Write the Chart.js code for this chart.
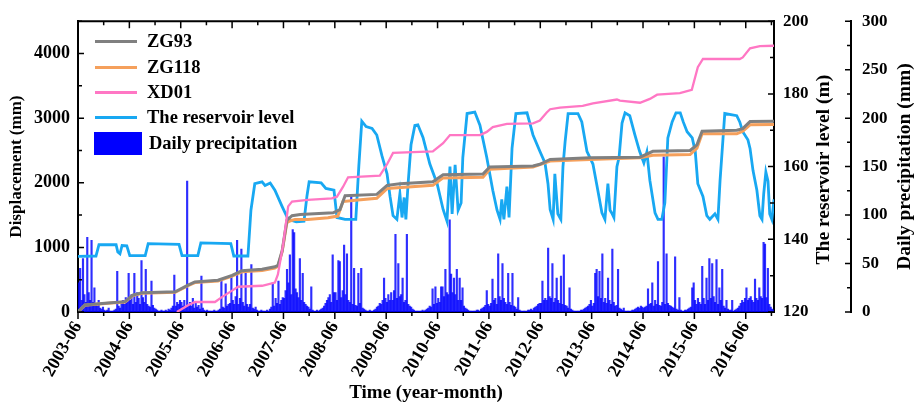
<!DOCTYPE html>
<html><head><meta charset="utf-8">
<script src="https://cdn.jsdelivr.net/npm/chart.js@4.4.0/dist/chart.umd.min.js"></script>
<style>
html,body{margin:0;padding:0;background:#fff;}
#wrap{position:relative;width:919px;height:406px;overflow:hidden;}
#c{position:absolute;left:0;top:0;}
.lt{position:absolute;font:bold 18.5px "Liberation Serif","Times New Roman",serif;color:#000;white-space:nowrap;height:20px;line-height:20px;}
.sw{position:absolute;}
</style></head><body>
<div id="wrap"><canvas id="c" width="919" height="406"></canvas><div id="legend"></div></div>
<script>
// ---------- DATA (x values are months since 2003-06) ----------
const startYear = 2003;
const tickYears = [2003,2004,2005,2006,2007,2008,2009,2010,2011,2012,2013,2014,2015,2016];
const dispTicks = [0,1000,2000,3000,4000];
const resTicks = [120,140,160,180,200];
const rainTicks = [0,50,100,150,200,250,300];

const resMonth = [0,4.2,4.9,8.9,9.3,9.8,10.3,11.4,12.1,15.7,16.4,23.6,24.3,28.0,28.7,35.7,36.4,39.7,40.4,41.3,43.0,43.7,44.9,46.0,47.7,49.1,51.0,52.8,53.5,54.0,56.8,57.9,59.8,60.5,62.4,64.9,65.6,66.3,67.3,68.7,69.8,71.0,72.2,72.9,73.6,74.5,75.2,75.7,76.2,76.6,77.1,77.8,78.7,79.4,80.6,82.2,83.9,85.3,86.2,86.9,87.4,88.1,88.8,89.5,89.9,90.9,92.7,93.9,95.5,96.9,97.9,98.6,99.0,99.5,100.2,100.7,101.4,102.3,104.9,106.3,107.9,109.1,109.8,110.3,111.0,111.4,112.1,112.8,113.3,113.8,114.5,116.8,117.7,118.9,120.3,121.2,122.4,123.1,123.8,124.3,124.8,125.2,125.9,126.4,127.1,127.8,128.9,130.1,131.2,132.2,132.9,133.6,134.8,135.5,136.4,137.1,137.8,138.8,139.7,140.7,141.4,142.3,143.5,144.2,144.8,146.0,146.9,147.6,148.8,149.5,150.0,150.7,151.1,153.9,154.6,155.3,156.5,157.0,157.7,158.6,159.3,159.8,160.2,160.7,161.2,161.6,162.1,162.6];
const resLevel = [135.3,135.4,138.5,138.5,136.5,136,138.3,138.2,135.5,135.5,138.8,138.6,135.5,135.5,139,138.8,135.4,135.4,148,155.3,155.8,154.8,155.5,153.5,149,145.5,144.8,145,152,155.8,155.5,154,153.5,146,145.5,145.5,160,172.5,171,170.5,168.7,163,158,151.8,146.5,145.5,152.5,146,151.5,145.5,155,166,171.3,171.5,168,160.7,155.3,148.2,145,160,147,160.5,148,150,162.5,174.6,175,171.4,162.5,153.5,148,145.5,151,145.5,154.5,146,165,174.6,174.8,168.7,164.2,161,155.3,148.2,145.5,158,147,145.5,160,166.9,174.6,174.6,172.3,164.2,160.7,155,147.3,145.5,155.3,148,147,146,160,162.5,172,174.8,174,168.7,164.2,161,164,156.2,147.3,145.5,145.5,150,167.9,172.3,174.8,174.8,172.3,169.6,167.9,164.2,155.3,151.8,146.5,145.5,147,145.5,156.2,167.9,174.6,174,172.3,169.6,167.4,165,158.9,153.5,146.5,145.5,152.6,158.5,156,147,145.5,151];

const zg93Month = [0,1.6,7.0,11.0,12.8,15.0,22.7,25.7,27.3,32.7,36.0,38.3,43.0,46.0,46.7,47.7,48.8,50.0,51.9,59.6,61.2,62.4,69.8,72.2,75.2,82.9,85.3,94.6,96.2,106.3,107.9,110.3,119.6,131.3,134.3,143.0,144.6,145.8,153.9,155.3,157.0,162.6];
const zg93Disp = [0,110,140,160,262,298,312,415,466,492,568,640,662,700,720,950,1420,1490,1509,1534,1584,1800,1820,1960,1985,2015,2125,2135,2245,2260,2286,2361,2386,2396,2486,2500,2586,2797,2812,2837,2947,2950];

const zg118Month = [0,1.6,7.0,11.0,12.8,15.0,22.7,25.7,27.3,32.7,36.0,38.3,43.0,46.0,46.7,47.7,48.8,49.5,50.7,53.7,58.4,60.7,61.9,65.4,69.8,72.2,82.9,85.3,94.6,96.2,106.3,110.3,119.6,131.3,134.3,143.0,144.6,145.8,153.9,155.3,157.0,162.6];
const zg118Disp = [0,105,135,155,255,290,305,406,456,481,556,621,642,681,707,932,1383,1408,1433,1433,1459,1484,1709,1734,1759,1910,1960,2075,2085,2210,2245,2336,2361,2386,2426,2436,2536,2757,2757,2797,2897,2900];

const xd01Month = [23.1,25.7,27.3,32.0,33.6,36.0,37.4,43.0,46.0,46.7,47.9,49.1,50.0,53.7,59.3,60.5,61.9,63.1,70.5,72.2,73.6,82.9,85.3,86.9,93.9,95.5,96.9,100.2,106.3,107.9,109.5,110.3,112.6,117.9,120.3,125.9,126.6,131.3,133.6,135.3,140.6,143.4,144.8,146.0,154.6,155.3,157.0,159.3,162.6];
const xd01Disp = [0,105,155,155,230,331,391,406,456,582,1033,1634,1709,1734,1759,1784,1935,2085,2110,2286,2461,2486,2611,2737,2737,2787,2862,2912,2920,2962,3088,3138,3163,3188,3228,3288,3270,3238,3298,3363,3388,3439,3789,3915,3915,3940,4080,4115,4120];

// precipitation (mm), ~10-day samples, each row starts in June of the year
const rain2003 = [30,45,12,55,18,10,77,20,12,74,10,25,8,6,12,4,3,5,2,1,2,4,1,1,1,2,3,42,6,4,10,12,8,15,10,40];
const rain2004 = [12,18,8,40,10,20,14,8,53,15,10,44,8,6,5,32,7,4,3,2,1,1,2,1,1,2,1,3,2,4,6,38,6,10,8,12];
const rain2005 = [10,6,12,5,135,8,10,6,14,4,9,5,7,3,37,4,2,1,2,1,1,1,1,2,1,1,2,3,34,5,4,29,6,8,9,37];
const rain2006 = [12,8,16,74,8,14,65,10,6,40,8,5,8,49,4,3,5,2,1,1,2,1,1,1,2,1,3,5,30,6,14,9,32,8,12,15];
const rain2007 = [14,22,44,30,59,18,85,82,24,20,15,55,12,40,10,8,6,5,3,26,2,1,1,2,1,2,3,4,6,9,12,15,18,10,59,20];
const rain2008 = [20,12,53,52,15,22,69,18,60,12,10,119,8,45,7,6,40,9,45,4,3,2,1,1,2,1,1,2,3,5,6,9,8,12,35,14];
const rain2009 = [10,18,12,20,12,22,80,14,50,16,18,35,10,12,80,8,6,5,3,2,1,1,1,1,1,2,1,2,3,4,6,5,24,8,26,9];
const rain2010 = [14,10,26,26,16,44,20,18,95,39,20,35,18,44,12,35,12,25,6,4,3,2,1,1,1,1,1,2,2,1,3,4,5,7,22,8];
const rain2011 = [6,9,34,12,14,8,60,16,12,50,14,10,8,40,10,7,40,6,5,3,15,2,1,1,1,1,1,2,2,3,2,4,5,6,8,9];
const rain2012 = [9,32,12,14,12,66,16,14,50,10,14,35,12,9,37,8,59,7,6,4,25,3,2,1,1,1,1,1,2,2,3,4,5,6,8,12];
const rain2013 = [6,9,40,44,16,42,14,60,10,14,9,35,12,8,65,10,6,7,44,4,3,2,4,1,1,1,1,1,2,2,3,4,5,4,6,5];
const rain2014 = [4,5,6,24,8,9,30,6,12,8,52,7,6,10,160,8,60,9,7,6,5,4,57,3,2,15,2,1,1,2,2,3,4,5,25,30];
const rain2015 = [12,8,14,10,8,47,14,8,35,12,55,14,50,16,10,54,8,25,12,44,6,4,12,3,2,2,12,1,2,3,4,6,9,12,10,14];
const rain2016 = [25,12,14,16,12,10,34,14,12,25,16,14,72,70,15,45,8,5,3,2];
const rainYears = [rain2003,rain2004,rain2005,rain2006,rain2007,rain2008,rain2009,rain2010,rain2011,rain2012,rain2013,rain2014,rain2015,rain2016];

// ---------- build ----------
const pts = (xs, ys) => xs.map((x, i) => ({x, y: ys[i]}));
const rainPts = [];
rainYears.forEach((row, k) => row.forEach((v, j) => rainPts.push({x: k * 12 + j / 3 + 1 / 6, y: v})));
const monthTicks = tickYears.map(y => (y - startYear) * 12);
const setTicks = vals => (s => { s.ticks = vals.map(v => ({value: v})); });

const FONT = "'Liberation Serif','Times New Roman',serif";
Chart.defaults.font.family = FONT;
Chart.defaults.font.weight = 'bold';
Chart.defaults.color = '#000';

const series = [
  {label: 'ZG93', color: '#808080'},
  {label: 'ZG118', color: '#f5a05c'},
  {label: 'XD01', color: '#ff77c4'},
  {label: 'The reservoir level', color: '#18a8f2'},
  {label: 'Daily precipitation', color: '#0000ff'}
];

const framePlugin = {
  id: 'frame',
  afterDraw(chart) {
    const c = chart.ctx, a = chart.chartArea, s = chart.scales;
    c.save();
    c.strokeStyle = '#000';
    c.lineWidth = 2;
    c.beginPath(); c.moveTo(a.left - 1, a.top); c.lineTo(a.right + 1, a.top); c.stroke();
    c.lineWidth = 1.5;
    c.beginPath();
    for (let v = 0; v <= 4500; v += 500) { const y = s.y.getPixelForValue(v); const L = v % 1000 === 0 ? 6 : 4; c.moveTo(a.left, y); c.lineTo(a.left + L, y); }
    for (let v = 120; v <= 200; v += 10) { const y = s.yR.getPixelForValue(v); const L = v % 20 === 0 ? 6 : 4; c.moveTo(a.right, y); c.lineTo(a.right - L, y); }
    const px = s.yP.left;
    for (let v = 0; v <= 300; v += 25) { const y = s.yP.getPixelForValue(v); const L = v % 50 === 0 ? 6 : 4; c.moveTo(px, y); c.lineTo(px - L, y); }
    for (let m = 0; m <= 162; m += 6) { const x = s.x.getPixelForValue(m); const L = m % 12 === 0 ? 7 : 4; c.moveTo(x, a.bottom); c.lineTo(x, a.bottom + L); c.moveTo(x, a.top); c.lineTo(x, a.top + L); }
    c.stroke();
    // right-side axis titles (reading bottom-to-top)
    c.fillStyle = '#000';
    c.font = 'bold 19.5px ' + FONT;
    c.textAlign = 'center'; c.textBaseline = 'middle';
    const cy = (a.top + a.bottom) / 2;
    c.save(); c.translate(824, cy + 3); c.rotate(-Math.PI / 2); c.fillText('The reservoir level (m)', 0, 0); c.restore();
    c.save(); c.translate(905, cy); c.rotate(-Math.PI / 2); c.fillText('Daily precipitation (mm)', 0, 0); c.restore();
    c.restore();
  }
};

new Chart(document.getElementById('c'), {
  type: 'line',
  data: {
    datasets: [
      {type: 'line', label: series[2].label, data: pts(xd01Month, xd01Disp), borderColor: series[2].color, borderWidth: 2.3, pointRadius: 0, yAxisID: 'y', order: 1},
      {type: 'line', label: series[0].label, data: pts(zg93Month, zg93Disp), borderColor: series[0].color, borderWidth: 3, pointRadius: 0, yAxisID: 'y', order: 2},
      {type: 'line', label: series[1].label, data: pts(zg118Month, zg118Disp), borderColor: series[1].color, borderWidth: 3, pointRadius: 0, yAxisID: 'y', order: 3},
      {type: 'line', label: series[3].label, data: pts(resMonth, resLevel), borderColor: series[3].color, borderWidth: 2.8, pointRadius: 0, yAxisID: 'yR', order: 4},
      {type: 'bar', label: series[4].label, data: rainPts, backgroundColor: 'rgba(0,0,255,0.82)', borderWidth: 0, barThickness: 1.5, yAxisID: 'yP', order: 5}
    ]
  },
  options: {
    responsive: false, animation: false,
    layout: {padding: {top: 13, left: 0, right: 0, bottom: 0}},
    plugins: {legend: {display: false}, tooltip: {enabled: false}},
    scales: {
      x: {
        type: 'linear', position: 'bottom', min: 0, max: 162.6, offset: false,
        grid: {display: false, drawTicks: false},
        border: {display: true, color: '#000', width: 2},
        afterBuildTicks: setTicks(monthTicks),
        ticks: {autoSkip: false, minRotation: 60, maxRotation: 60, padding: 6,
          font: {size: 18, weight: 'bold'},
          callback: v => String(startYear + Math.round(v / 12)) + '-06'},
        title: {display: true, text: 'Time (year-month)', font: {size: 19, weight: 'bold'}, padding: {top: 0, bottom: 2}},
        afterFit(s) { s.height = 94; }
      },
      y: {
        type: 'linear', position: 'left', min: 0, max: 4500,
        grid: {display: false, drawTicks: false},
        border: {display: true, color: '#000', width: 2},
        afterBuildTicks: setTicks(dispTicks),
        ticks: {autoSkip: false, padding: 8, font: {size: 18, weight: 'bold'}, callback: v => String(v)},
        title: {display: true, text: 'Displacement (mm)', font: {size: 17, weight: 'bold'}, padding: {top: 6, bottom: 0}},
        afterFit(s) { s.width = 78; }
      },
      yR: {
        type: 'linear', position: 'right', min: 120, max: 200, weight: 0,
        grid: {display: false, drawTicks: false},
        border: {display: true, color: '#000', width: 2},
        afterBuildTicks: setTicks(resTicks),
        ticks: {autoSkip: false, padding: 9, font: {size: 17, weight: 'bold'}, callback: v => String(v)},
        afterFit(s) { s.width = 77; }
      },
      yP: {
        type: 'linear', position: 'right', min: 0, max: 300, weight: 1,
        grid: {display: false, drawTicks: false},
        border: {display: true, color: '#000', width: 2},
        afterBuildTicks: setTicks(rainTicks),
        ticks: {autoSkip: false, padding: 11, font: {size: 17, weight: 'bold'}, callback: v => String(v)},
        afterFit(s) { s.width = 68; }
      }
    }
  },
  plugins: [framePlugin]
});

// ---------- legend (HTML text) ----------
const rowY = [41, 67, 92, 117, 143];
const lg = document.getElementById('legend');
series.forEach((s, i) => {
  const sw = document.createElement('div');
  sw.className = 'sw';
  if (i < 4) {
    Object.assign(sw.style, {left: '95px', width: '42px', height: '3px', top: (rowY[i] - 1.5) + 'px', background: s.color});
  } else {
    Object.assign(sw.style, {left: '94px', width: '48px', height: '23px', top: (rowY[i] - 11.5) + 'px', background: s.color});
  }
  lg.appendChild(sw);
  const t = document.createElement('div');
  t.className = 'lt';
  t.textContent = s.label;
  t.style.left = (i < 4 ? 147 : 149) + 'px';
  t.style.top = (rowY[i] - 10) + 'px';
  lg.appendChild(t);
});
</script>
</body></html>
